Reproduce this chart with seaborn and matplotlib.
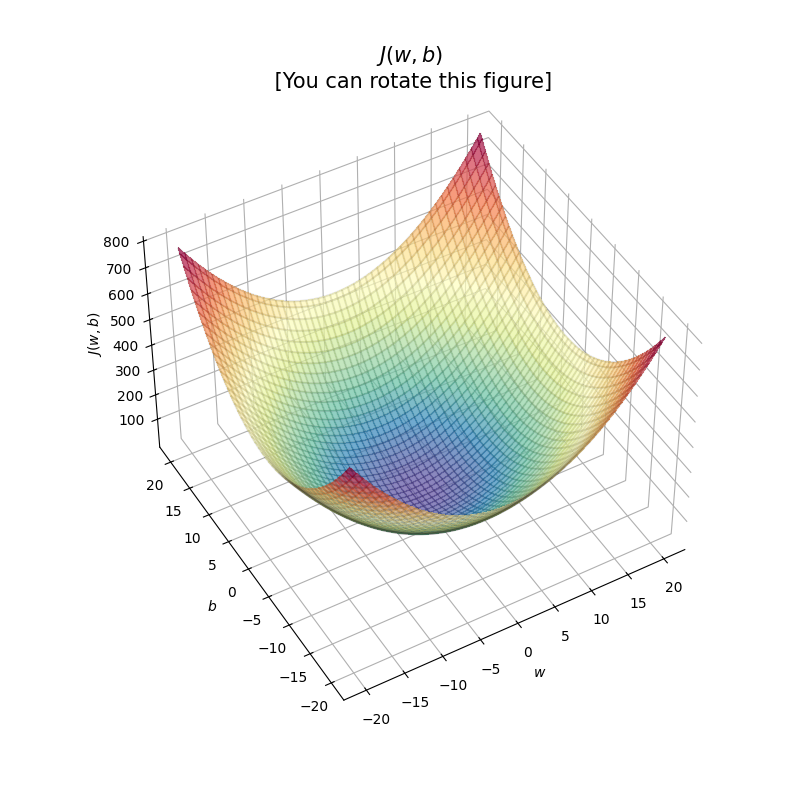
import numpy as np
import matplotlib
matplotlib.use("Agg")
import matplotlib.pyplot as plt
import seaborn as sns

w_range = [-20, 20]
b_range = [-20, 20]
grid_size = 100
z_ticks = [100, 200, 300, 400, 500, 600, 700, 800]
title_text = "$J(w,b)$\n [You can rotate this figure]"

w = np.linspace(w_range[0], w_range[1], grid_size)
b = np.linspace(b_range[0], b_range[1], grid_size)
W, B = np.meshgrid(w, b)
J = W**2 + B**2

fig = plt.figure(figsize=(8, 8), dpi=100)
ax = fig.add_subplot(111, projection="3d")
ax.xaxis.set_pane_color((1.0, 1.0, 1.0, 0.0))
ax.yaxis.set_pane_color((1.0, 1.0, 1.0, 0.0))
ax.zaxis.set_pane_color((1.0, 1.0, 1.0, 0.0))
ax.zaxis.set_rotate_label(False)
ax.view_init(45, -120)

cmap = sns.color_palette("Spectral_r", as_cmap=True)
ax.plot_surface(W, B, J, cmap=cmap, alpha=0.7, antialiased=False)
ax.plot_wireframe(W, B, J, color="k", alpha=0.1)
ax.set_zticks(z_ticks)
ax.set_xlabel("$w$")
ax.set_ylabel("$b$")
ax.set_zlabel("$J(w,b)$", rotation=90)
ax.set_title(title_text, size=15)
fig.savefig("out.png", dpi=100)
